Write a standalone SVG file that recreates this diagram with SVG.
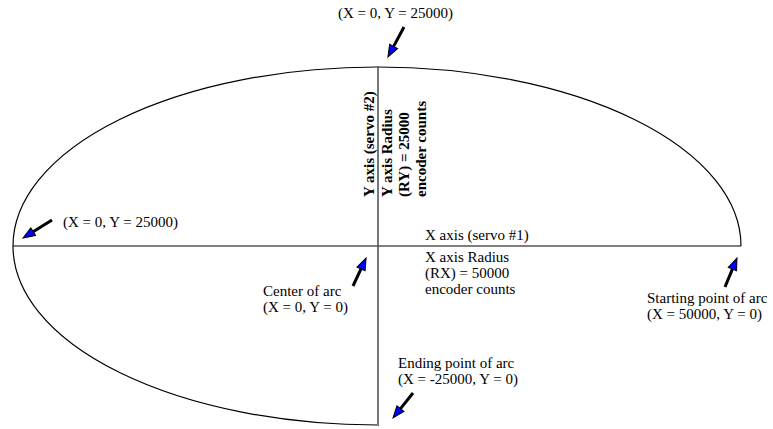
<svg xmlns="http://www.w3.org/2000/svg" width="773" height="429" viewBox="0 0 773 429">
<style>
.t{font-family:"Liberation Serif","Times New Roman",serif;font-size:15px;fill:#000}
.b{font-family:"Liberation Serif","Times New Roman",serif;font-size:15px;font-weight:bold;fill:#000}
.arr{stroke:#000;stroke-width:3;fill:none;marker-end:url(#ah)}
</style>
<defs>
<marker id="ah" markerUnits="userSpaceOnUse" viewBox="-1 -6 15 12" markerWidth="15" markerHeight="12" refX="0" refY="0" orient="auto" overflow="visible">
<path d="M0,-4.5 L12,0 L0,4.5 z" fill="#0000ff" stroke="#000" stroke-width="1"/>
</marker>
</defs>
<rect width="773" height="429" fill="#fff"/>
<g id="arc">
<path d="M741,246 A364,179 0 1 0 377,425" fill="none" stroke="#000" stroke-width="1.2"/>
</g>
<g id="axes">
<line x1="13" y1="246" x2="741" y2="246" stroke="#000" stroke-width="1.2"/>
<line x1="378" y1="66" x2="378" y2="426" stroke="#555" stroke-width="1.6"/>
</g>
<g id="labels">
<text class="t" x="338" y="18">(X = 0, Y = 25000)</text>
<text class="t" x="63" y="227">(X = 0, Y = 25000)</text>
<text class="t" x="425" y="240">X axis (servo #1)</text>
<text class="t" x="425" y="262">X axis Radius</text>
<text class="t" x="425" y="278">(RX) = 50000</text>
<text class="t" x="425" y="294">encoder counts</text>
<text class="t" x="263" y="296">Center of arc</text>
<text class="t" x="263" y="312">(X = 0, Y = 0)</text>
<text class="t" x="647" y="303">Starting point of arc</text>
<text class="t" x="647" y="319">(X = 50000, Y = 0)</text>
<text class="t" x="398" y="368">Ending point of arc</text>
<text class="t" x="398" y="384">(X = -25000, Y = 0)</text>
<text class="b" transform="translate(374,197) rotate(-90)">Y axis (servo #2)</text>
<text class="b" transform="translate(392,197) rotate(-90)">Y axis Radius</text>
<text class="b" transform="translate(409,197) rotate(-90)">(RY) = 25000</text>
<text class="b" transform="translate(426,197) rotate(-90)">encoder counts</text>
</g>
<g id="connectors">
<line class="arr" x1="404" y1="27" x2="393.6" y2="46.4"/>
<line class="arr" x1="52" y1="220" x2="33.2" y2="231.7"/>
<line class="arr" x1="353" y1="286" x2="361" y2="268.9"/>
<line class="arr" x1="725" y1="287" x2="732.4" y2="269.1"/>
<line class="arr" x1="413" y1="393" x2="400.5" y2="408.6"/>
</g>
</svg>
